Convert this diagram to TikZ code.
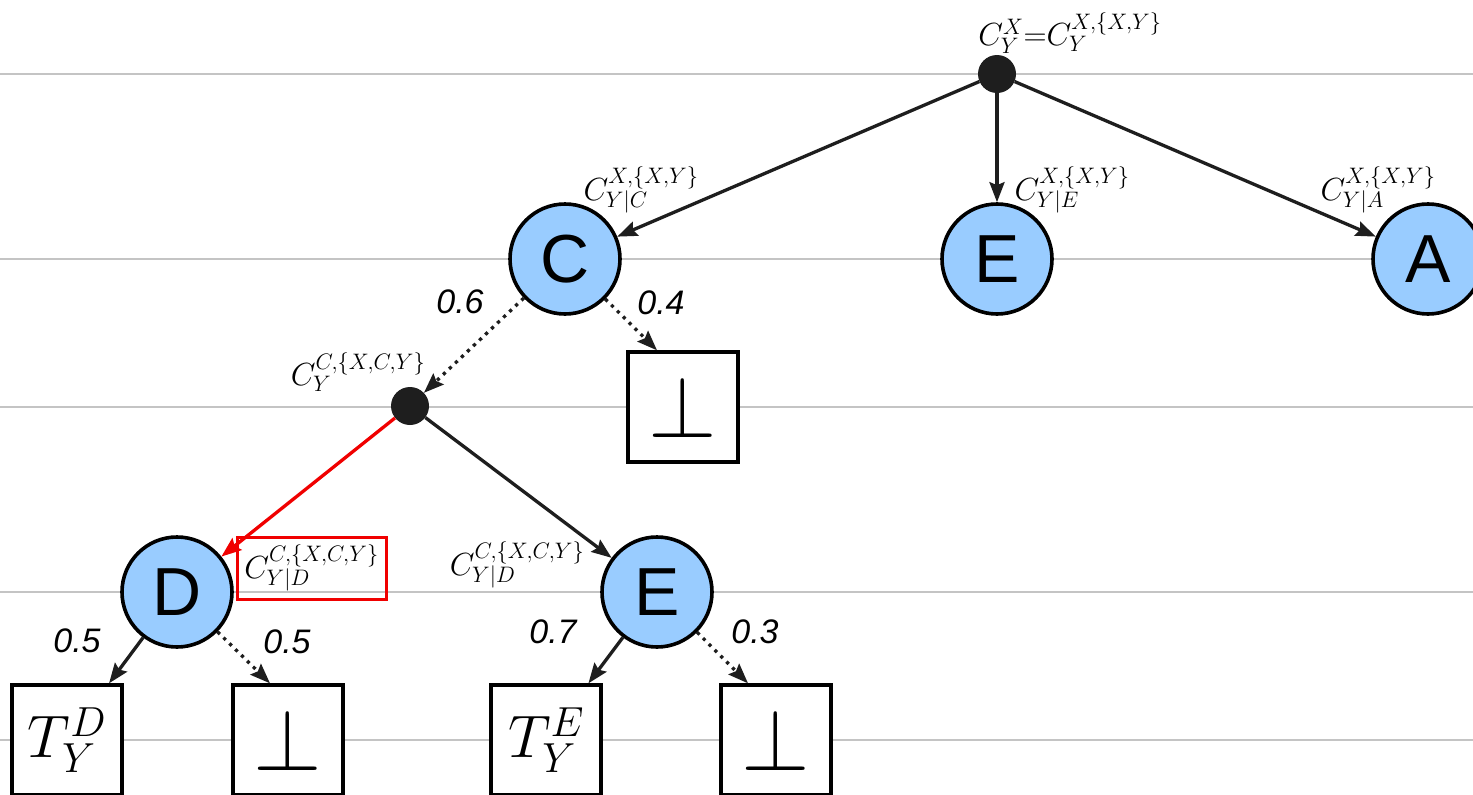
\RequirePackage{fix-cm}
\documentclass[tikz,border=0pt]{standalone}
\usepackage{fontspec}
\setsansfont{Liberation Sans}
\usetikzlibrary{arrows.meta}
\definecolor{nodeblue}{HTML}{99CCFF}
\definecolor{edgedark}{HTML}{1E1E1E}
\definecolor{gridgray}{HTML}{C4C4C4}
\definecolor{hired}{HTML}{F00000}
\tikzset{
  vnode/.style={circle, draw=black, line width=3.6pt, fill=nodeblue, minimum size=110pt, inner sep=0pt, font=\fontsize{68}{68}\sffamily},
  dotnode/.style={circle, fill=edgedark, minimum size=38pt, inner sep=0pt},
  leafbox/.style={rectangle, draw=black, line width=3.4pt, minimum width=110pt, minimum height=110pt, inner sep=0pt, fill=white},
  edge/.style={draw=edgedark, line width=3.3pt, -{Stealth[length=20pt,width=15pt,inset=3pt]}},
  dotedge/.style={edge, dash pattern=on 3.3pt off 5pt},
  redge/.style={edge, draw=hired},
  lbl/.style={inner sep=0pt, font=\fontsize{32}{38}\selectfont},
  prob/.style={inner sep=0pt, font=\fontsize{34}{40}\sffamily\itshape},
  gline/.style={draw=gridgray, line width=2pt},
}
\begin{document}
\begin{tikzpicture}[x=1pt,y=-1pt]
\clip (0,0) rectangle (1473,795);
\fill[white] (0,0) rectangle (1473,795);
% grid lines
\foreach \yy in {74,259,407,592,740} {\draw[gline] (0,\yy) -- (1473,\yy);}
% nodes
\node[dotnode] (top) at (997,74) {};
\node[vnode] (C) at (565,259) {C};
\node[vnode] (E1) at (997,259) {E};
\node[vnode] (A) at (1428,259) {A};
\node[leafbox] (b1) at (683,407) {\fontsize{88}{88}\selectfont$\bot$};
\node[dotnode] (mid) at (410,406) {};
\node[vnode] (D) at (177,592) {D};
\node[vnode] (E2) at (657,592) {E};
\node[leafbox] (TD) at (67,740) {\fontsize{60}{60}\selectfont$T_Y^D$};
\node[leafbox] (b2) at (288,740) {\fontsize{88}{88}\selectfont$\bot$};
\node[leafbox] (TE) at (546,740) {\fontsize{60}{60}\selectfont$T_Y^E$};
\node[leafbox] (b3) at (776,740) {\fontsize{88}{88}\selectfont$\bot$};
% edges
\draw[edge] (top) -- (C);
\draw[edge] (top) -- (E1);
\draw[edge] (top) -- (A);
\draw[dotedge] (C) -- (b1.north west -| 657,0);
\draw[dotedge] (C) -- (mid);
\draw[redge] (mid) -- (D);
\draw[edge] (mid) -- (E2);
\draw[edge] (D) -- (TD);
\draw[dotedge] (D) -- (b2.north west -| 270,0);
\draw[edge] (E2) -- (TE);
\draw[dotedge] (E2) -- (b3.north west -| 748,0);
% labels
\node[lbl] (ltop) at (1070,33) {$C_Y^X{=}C_Y^{X,\{X,Y\}}$};
\node[lbl] (lC) at (641,190) {$C_{Y|C}^{X,\{X,Y\}}$};
\node[lbl] (lE) at (1072,190) {$C_{Y|E}^{X,\{X,Y\}}$};
\node[lbl] (lA) at (1378,190) {$C_{Y|A}^{X,\{X,Y\}}$};
\node[lbl] (lmid) at (358,372) {$C_{Y}^{C,\{X,C,Y\}}$};
\node[lbl, draw=hired, line width=3pt, minimum width=149pt, minimum height=62pt] (lD) at (311.5,568) {$C_{Y|D}^{C,\{X,C,Y\}}$};
\node[lbl] (lE2) at (517,565) {$C_{Y|D}^{C,\{X,C,Y\}}$};
\node[prob] (p1) at (460,302) {0.6};
\node[prob] (p2) at (661,303) {0.4};
\node[prob] (p3) at (77,641) {0.5};
\node[prob] (p4) at (287,642) {0.5};
\node[prob] (p5) at (553,632) {0.7};
\node[prob] (p6) at (755,632) {0.3};
\end{tikzpicture}
\end{document}
